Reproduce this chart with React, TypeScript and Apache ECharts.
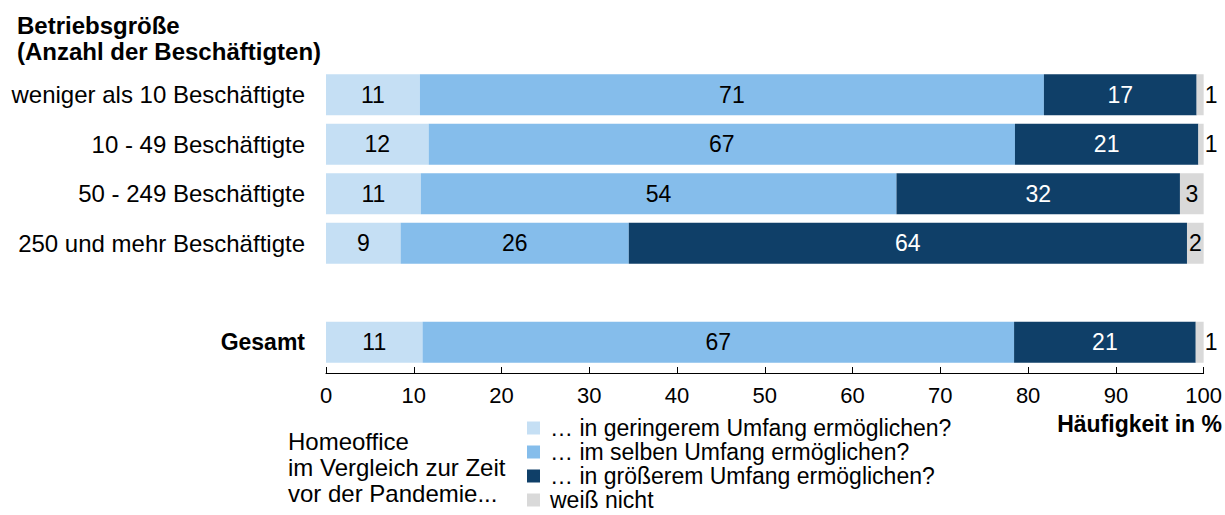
import React, { useEffect, useRef } from "react";
import * as echarts from "echarts";

const categories = [
  "weniger als 10 Beschäftigte",
  "10 - 49 Beschäftigte",
  "50 - 249 Beschäftigte",
  "250 und mehr Beschäftigte",
  "",
  "Gesamt",
];
const seriesNames = [
  "… in geringerem Umfang ermöglichen?",
  "… im selben Umfang ermöglichen?",
  "… in größerem Umfang ermöglichen?",
  "weiß nicht",
];
const geringer = [10.7, 11.7, 10.8, 8.5, null, 11.0];
const selben = [71.1, 66.8, 54.2, 26.0, null, 67.4];
const groesser = [17.4, 20.9, 32.3, 63.6, null, 20.7];
const weissNicht = [0.8, 0.6, 2.7, 1.9, null, 0.9];
const xTicks = [0, 10, 20, 30, 40, 50, 60, 70, 80, 90, 100];

const colors = ["#C5DFF4", "#85BDEB", "#0F3F68", "#D9D9D9"];
const labelColors = ["#000", "#000", "#fff", "#000"];
const FONT = "'Liberation Sans', Arial, sans-serif";

export default function App() {
  const ref = useRef<HTMLDivElement>(null);
  useEffect(() => {
    if (!ref.current) return;
    const chart = echarts.init(ref.current, null, { renderer: "svg" });
    const all = [geringer, selben, groesser, weissNicht];
    const series = all.map((arr, si) => ({
      name: seriesNames[si],
      type: "bar",
      stack: "total",
      barWidth: 41,
      itemStyle: { color: colors[si] },
      data: arr.map((v) => {
        if (v === null) return null;
        const small = si === 3 && v < 1.5;
        return {
          value: v,
          label: {
            show: true,
            position: small ? "right" : "inside",
            distance: 1,
            formatter: () => String(Math.round(v)),
            color: small ? "#000" : labelColors[si],
            fontSize: 23,
            fontFamily: FONT,
          },
        };
      }),
    }));
    chart.setOption({
      animation: false,
      textStyle: { fontFamily: FONT },
      grid: { left: 326, right: 20, top: 70, bottom: 148, containLabel: false },
      xAxis: {
        type: "value",
        min: xTicks[0],
        max: xTicks[xTicks.length - 1],
        interval: 10,
        offset: 6,
        axisLine: { show: true, lineStyle: { color: "#000", width: 1 } },
        axisTick: { show: true, inside: true, length: 6, lineStyle: { color: "#000" } },
        axisLabel: { color: "#000", fontSize: 22, margin: 11, fontFamily: FONT },
        splitLine: { show: false },
      },
      yAxis: {
        type: "category",
        inverse: true,
        data: categories.map((c) =>
          c === "Gesamt"
            ? { value: c, textStyle: { fontWeight: "bold", fontSize: 23 } }
            : { value: c }
        ),
        axisLine: { show: false },
        axisTick: { show: false },
        axisLabel: { color: "#000", fontSize: 24, margin: 21, fontFamily: FONT },
      },
      legend: {
        data: seriesNames,
        orient: "vertical",
        left: 527,
        top: 416,
        padding: 0,
        itemGap: 0,
        itemWidth: 13,
        itemHeight: 13,
        icon: "rect",
        selectedMode: false,
        textStyle: { color: "#000", fontSize: 23, lineHeight: 24, fontFamily: FONT, padding: [0, 0, 0, 5] },
      },
      graphic: [
        {
          type: "text",
          left: 17,
          top: 12,
          style: {
            text: "Betriebsgröße\n(Anzahl der Beschäftigten)",
            font: `bold 24px ${FONT}`,
            lineHeight: 26,
            fill: "#000",
          },
        },
        {
          type: "text",
          left: 288,
          top: 428,
          style: {
            text: "Homeoffice\nim Vergleich zur Zeit\nvor der Pandemie...",
            font: `24px ${FONT}`,
            lineHeight: 26,
            fill: "#000",
          },
        },
        {
          type: "text",
          right: 3,
          top: 412,
          style: {
            text: "Häufigkeit in %",
            font: `bold 23px ${FONT}`,
            fill: "#000",
          },
        },
      ],
      series,
    });
    return () => chart.dispose();
  }, []);
  return <div ref={ref} style={{ width: 1225, height: 515, position: "absolute", left: 0, top: 0 }} />;
}
